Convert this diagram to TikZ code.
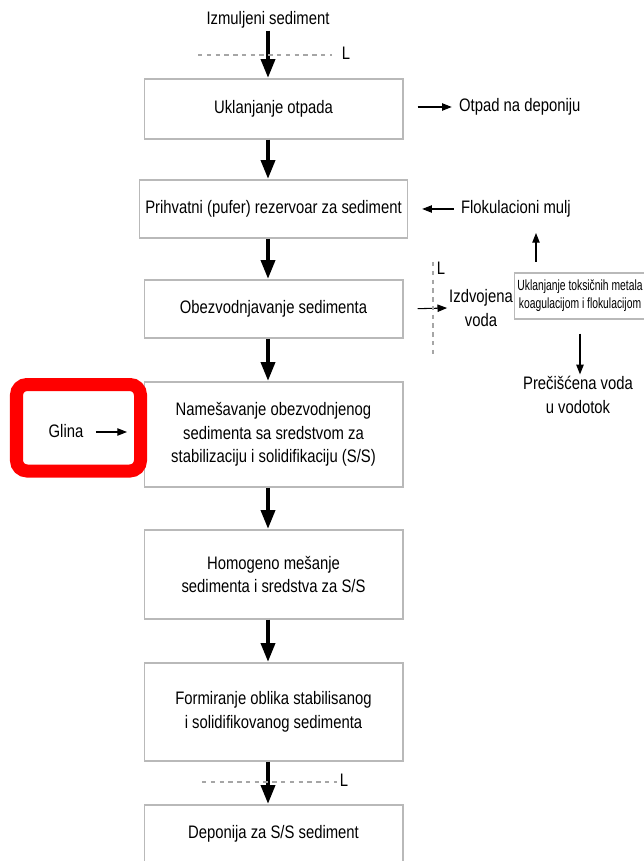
\documentclass[tikz,border=0pt]{standalone}
\usepackage{fontspec}
\setmainfont{Liberation Sans}[FakeStretch=0.82]
\newfontfamily\smallfnt{Liberation Sans}[FakeStretch=0.7]
\usetikzlibrary{arrows.meta}

\tikzset{
  box/.style={draw=gray!55, line width=0.6pt, fill=white, minimum width=5.18cm, align=center},
  flow/.style={line width=2.8pt, -{Triangle[width=7.6pt,length=11pt]}},
  thin/.style={line width=0.6pt, -{Triangle[width=4.2pt,length=5.5pt]}},
  cut/.style={gray!70, line width=0.6pt, dash pattern=on 2.5pt off 2.5pt},
  txt/.style={align=center, inner sep=1pt}
}

\begin{document}
\begin{tikzpicture}[x=0.02cm, y=-0.02cm, font=\fontsize{10.3}{13.4}\selectfont]
\useasboundingbox (0,0) rectangle (643,861);

% main line
\node [txt] (in) at (268,20) {Izmuljeni sediment};
\node [box, minimum height=1.2cm] (b1) at (273.5,109) {Uklanjanje otpada};
\node [box, minimum height=1.16cm] (b2) at (273.5,209) {Prihvatni (pufer) rezervoar za sediment};
\node [box, minimum height=1.16cm] (b3) at (273.5,309) {Obezvodnjavanje sedimenta};
\node [box, minimum height=2.1cm] (b4) at (273.5,434.5) {Name\v{s}avanje obezvodnjenog\\sedimenta sa sredstvom za\\stabilizaciju i solidifikaciju (S/S)};
\node [box, minimum height=1.78cm] (b5) at (273.5,574.5) {Homogeno me\v{s}anje\\sedimenta i sredstva za S/S};
\node [box, minimum height=1.96cm] (b6) at (273.5,712) {Formiranje oblika stabilisanog\\i solidifikovanog sedimenta};
\node [box, minimum height=1.14cm] (b7) at (273.5,833.5) {Deponija za S/S sediment};

\draw [flow] (in.south) -- (in.south |- b1.north);
\draw [flow] (b1.south -| in) -- (b2.north -| in);
\draw [flow] (b2.south -| in) -- (b3.north -| in);
\draw [flow] (b3.south -| in) -- (b4.north -| in);
\draw [flow] (b4.south -| in) -- (b5.north -| in);
\draw [flow] (b5.south -| in) -- (b6.north -| in);
\draw [flow] (b6.south -| in) -- (b7.north -| in);

% limits
\draw [cut] (198,55) -- (332,55);
\node [txt] (l1) at (346,53) {L};
\draw [cut] (202,782) -- (337,782);
\node [txt] (l3) at (344,780) {L};

% side streams
\node [txt, anchor=west] (otpad) at (457,107) {Otpad na deponiju};
\draw [thin, shorten <=8pt, shorten >=3pt] (b1.east |- otpad.west) -- (otpad.west);
\node [txt, anchor=west] (floc) at (459,209) {Flokulacioni mulj};
\draw [thin, shorten <=3pt, shorten >=8pt] (floc.west) -- (b2.east |- floc.west);

\node [txt] (voda) at (481,308) {Izdvojena\\voda};
\draw [thin, shorten <=8pt] (b3.east) -- (voda.west);
\draw [cut] (433,262) -- (433,355);
\node [txt] (l2) at (441,268) {L};

\node [draw=gray!55, line width=0.6pt, minimum width=2.62cm, minimum height=0.92cm, align=center,
  font=\smallfnt\fontsize{8.4}{10.2}\selectfont, inner sep=1pt] (metal) at (580,296)
  {Uklanjanje toksi\v{c}nih metala\\koagulacijom i flokulacijom};
\coordinate (up) at (536,233);
\draw [thin, shorten <=6pt] (metal.north -| up) -- (up);
\node [txt] (cista) at (578,395) {Pre\v{c}i\v{s}\'{c}ena voda\\u vodotok};
\draw [thin, shorten <=8pt] (metal.south) -- (metal.south |- cista.north);

% added agent, highlighted
\draw [red, line width=7.4pt, rounded corners=6pt] (16.5,384.5) rectangle (140.5,471);
\node [txt] (glina) at (66,431) {Glina};
\coordinate (gl) at (127,432);
\draw [thin, shorten <=6pt] (glina.east |- gl) -- (gl);
\end{tikzpicture}
\end{document}
